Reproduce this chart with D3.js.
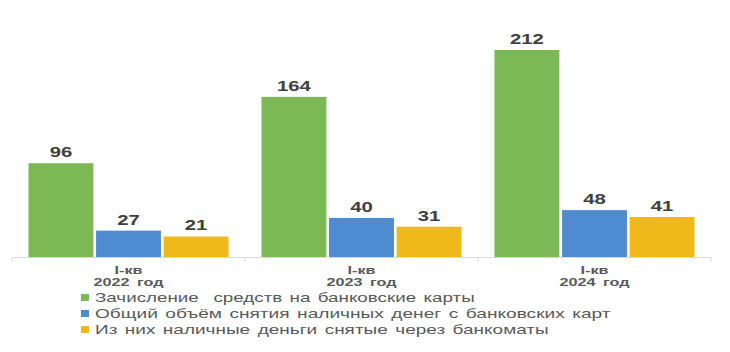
<!DOCTYPE html>
<html lang="ru">
<head>
	<meta charset="utf-8">
	<title>Bar chart</title>
	<script src="https://d3js.org/d3.v7.min.js"></script>
	<style>
		body { margin: 0; background: #fff; }
		svg text { font-family: "Liberation Sans", Arial, sans-serif; white-space: pre; }
	</style>
</head>
<body>
	<div id="chart"></div>
	<script>
		// data
		const periods = ["I-кв|2022 год", "I-кв|2023 год", "I-кв|2024 год"];
		const seriesNames = [
			"Зачисление  средств на банковские карты",
			"Общий объём снятия наличных денег с банковских карт",
			"Из них наличные деньги снятые через банкоматы"
		];
		const credited = [96, 164, 212];
		const withdrawnTotal = [27, 40, 48];
		const withdrawnAtm = [21, 31, 41];
		const seriesColors = ["#7cb853", "#4f8bd0", "#efb91a"];
		const legendWidths = [380, 516, 454];

		const width = 730;
		const height = 352;
		const x0 = 12, x1 = 711, baseY = 257;

		const svg = d3.select("#chart")
			.append("svg")
			.attr("width", width)
			.attr("height", height);

		// text that is stretched horizontally (source picture is wide)
		function wideText(parent, x, y, str, size, weight, fill, anchor, target, wordSp) {
			const t = parent.append("text")
				.attr("font-size", size + "px")
				.attr("font-weight", weight)
				.attr("fill", fill)
				.attr("text-anchor", anchor)
				.attr("word-spacing", (wordSp || 0) + "px")
				.text(str);
			const w = t.node().getComputedTextLength();
			const sx = typeof target === "number" ? target / w : 1.45;
			t.attr("transform", "translate(" + x + "," + y + ") scale(" + sx + ",1)");
			return t;
		}

		const series = [credited, withdrawnTotal, withdrawnAtm];

		const xScale = d3.scaleBand()
			.domain(periods)
			.range([x0, x1])
			.paddingInner(0)
			.paddingOuter(0);
		const inner = d3.scaleBand()
			.domain(d3.range(series.length))
			.range([16.5, xScale.bandwidth() - 16.5])
			.paddingInner(0.04);
		const yScale = d3.scaleLinear()
			.domain([0, 212])
			.range([baseY, 50]);

		// axis line + separators
		const axis = d3.axisBottom(xScale).tickSize(0).tickFormat("");
		const axisG = svg.append("g")
			.attr("transform", "translate(0," + (baseY + 0.5) + ")")
			.call(axis);
		axisG.select(".domain").attr("stroke", "#d9d9d9").attr("d", "M" + x0 + ",0H" + x1);
		axisG.selectAll(".sep")
			.data([x0, x0 + xScale.step(), x0 + 2 * xScale.step(), x1])
			.enter()
			.append("line")
			.attr("class", "sep")
			.attr("x1", d => d).attr("x2", d => d)
			.attr("y1", 0).attr("y2", 4)
			.attr("stroke", "#d9d9d9");

		const groups = svg.selectAll("g.period")
			.data(periods)
			.enter()
			.append("g")
			.attr("class", "period")
			.attr("transform", d => "translate(" + xScale(d) + ",0)");

		groups.each(function(p, pi) {
			const g = d3.select(this);
			series.forEach(function(s, si) {
				g.append("rect")
					.attr("x", inner(si))
					.attr("y", yScale(s[pi]))
					.attr("width", inner.bandwidth())
					.attr("height", baseY - yScale(s[pi]))
					.attr("fill", seriesColors[si]);
				wideText(g, inner(si) + inner.bandwidth() / 2, yScale(s[pi]) - 6,
					s[pi], 14, "bold", "#404040", "middle");
			});
			const parts = p.split("|");
			wideText(g, xScale.bandwidth() / 2, 274, parts[0], 11, "bold", "#595959", "middle", 28);
			wideText(g, xScale.bandwidth() / 2, 285.5, parts[1], 11, "bold", "#595959", "middle", 70, 2);
		});

		// legend
		const legend = svg.selectAll("g.legend")
			.data(seriesNames)
			.enter()
			.append("g")
			.attr("class", "legend")
			.attr("transform", (d, i) => "translate(81," + (297 + i * 16) + ")");
		legend.append("rect")
			.attr("x", 0).attr("y", -3)
			.attr("width", 8).attr("height", 7)
			.attr("fill", (d, i) => seriesColors[i]);
		legend.each(function(d, i) {
			wideText(d3.select(this), 14, 4.5, d, 13, "normal", "#595959", "start", legendWidths[i], 1.5);
		});
	</script>
</body>
</html>
